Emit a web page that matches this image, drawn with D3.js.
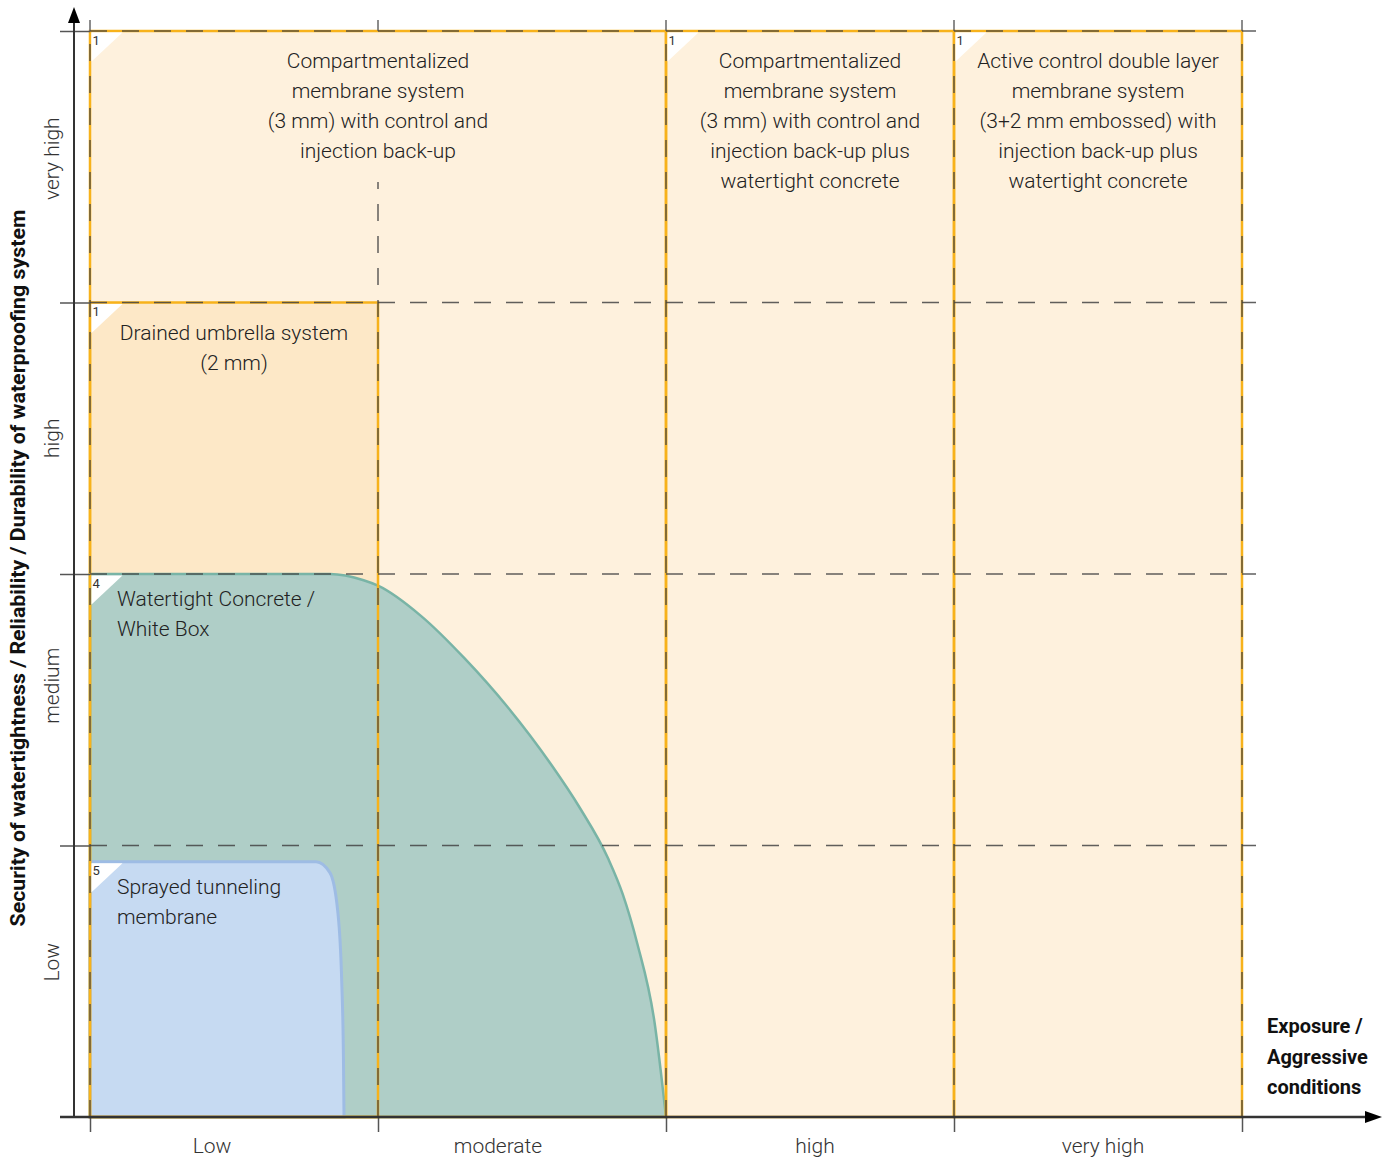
<!DOCTYPE html>
<html>
<head>
<meta charset="utf-8">
<script src="https://d3js.org/d3.v7.min.js"></script>
<style>
  body { margin: 0; background: #fff; }
  text { font-family: Roboto, "Open Sans", sans-serif; fill: #222; }
  .cat { font-size: 21px; font-weight: 300; fill: #333; }
  .box-label { font-size: 21px; font-weight: 300; }
  .title { font-size: 20px; font-weight: 700; fill: #111; }
  .corner-num { font-size: 13px; fill: #333; }
</style>
</head>
<body>
<div id="chart"></div>
<script>
// Categories on both axes
var xCategories = ["Low", "moderate", "high", "very high"];
var yCategories = ["Low", "medium", "high", "very high"];

// Rectangular systems: index, x range, y range (in category units), text lines
var rectIds = ["1", "1", "1", "1"];
var rectX = [[0, 2], [2, 3], [3, 4], [0, 1]];
var rectY = [[0, 4], [0, 4], [0, 4], [0, 3]];
var rectLabels = [
    ["Compartmentalized", "membrane system", "(3 mm) with control and", "injection back-up"],
    ["Compartmentalized", "membrane system", "(3 mm) with control and", "injection back-up plus", "watertight concrete"],
    ["Active control double layer", "membrane system", "(3+2 mm embossed) with", "injection back-up plus", "watertight concrete"],
    ["Drained umbrella system", "(2 mm)"]
];

// Curved systems: outline
var concreteCurve = [[0, 2], [0.833, 2], [0.95, 1.977], [1.0, 1.957], [1.15, 1.845], [1.3, 1.69], [1.45, 1.51],
    [1.6, 1.3], [1.7, 1.14], [1.8, 0.95], [1.85, 0.82], [1.9, 0.64], [1.96, 0.35], [2, 0]];
var sprayedCurve = [[0, 0.94], [0.785, 0.94], [0.833, 0.9], [0.86, 0.76], [0.874, 0.5], [0.88, 0.22], [0.882, 0]];
var curveIds = ["4", "5"];
var curveLabels = [["Watertight Concrete /", "White Box"], ["Sprayed tunneling", "membrane"]];

var xTitle = ["Exposure /", "Aggressive", "conditions"];
var yTitle = "Security of watertightness / Reliability / Durability of waterproofing system";

// Configuring SVG
var svgWidth = 1389;
var svgHeight = 1157;
var margin = { top: 31, right: 147, bottom: 40, left: 90 };
var width = svgWidth - margin.left - margin.right;
var height = svgHeight - margin.top - margin.bottom;

var svg = d3.select("#chart")
    .append("svg")
    .attr("width", svgWidth)
    .attr("height", svgHeight);

var chartGroup = svg.append("g")
    .attr("transform", `translate(${margin.left}, ${margin.top})`);

var x = d3.scaleLinear().domain([0, 4]).range([0, width]);
var y = d3.scaleLinear().domain([0, 4]).range([height, 0]);
var xBand = d3.scaleBand().domain(xCategories).range([0, width]);
var yBand = d3.scaleBand().domain(yCategories).range([height, 0]);

// small nudges so the category labels sit where the original had them
var xLabelShift = [-22, -24, 5, 5];
var yLabelShift = [-19, -24, 0, -8];

var peach = "#fbd7a0";
var peachOpacity = 0.36;
var peachSolid = "#fef1dd";
var orange = "#f7b21b";

// Rect fills
chartGroup.append("g").selectAll("rect")
    .data(rectX)
    .enter()
    .append("rect")
    .attr("x", (d, i) => x(d[0]))
    .attr("y", (d, i) => y(rectY[i][1]))
    .attr("width", d => x(d[1]) - x(d[0]))
    .attr("height", (d, i) => y(rectY[i][0]) - y(rectY[i][1]))
    .attr("fill", peach)
    .attr("fill-opacity", peachOpacity);

// Curved systems
var area = d3.area()
    .x(d => x(d[0]))
    .y0(y(0))
    .y1(d => y(d[1]))
    .curve(d3.curveMonotoneX);

chartGroup.append("path")
    .datum(concreteCurve)
    .attr("d", area)
    .attr("fill", "#afcec7")
    .attr("stroke", "#79b4a6")
    .attr("stroke-width", 2.5);

chartGroup.append("path")
    .datum(sprayedCurve)
    .attr("d", area)
    .attr("fill", "#c6daf2")
    .attr("stroke", "#9ebce4")
    .attr("stroke-width", 3);

// Rect borders
chartGroup.append("g").selectAll("rect")
    .data(rectX)
    .enter()
    .append("rect")
    .attr("x", d => x(d[0]))
    .attr("y", (d, i) => y(rectY[i][1]))
    .attr("width", d => x(d[1]) - x(d[0]))
    .attr("height", (d, i) => y(rectY[i][0]) - y(rectY[i][1]))
    .attr("fill", "none")
    .attr("stroke", orange)
    .attr("stroke-width", 2.5);

// Gridlines (dashed) + solid ends
var gridColor = "#444";
var grid = chartGroup.append("g");
grid.selectAll(".vgrid")
    .data(d3.range(0, 5))
    .enter()
    .append("line")
    .attr("x1", d => x(d))
    .attr("x2", d => x(d))
    .attr("y1", y(0))
    .attr("y2", y(4))
    .attr("stroke", gridColor)
    .attr("stroke-opacity", 0.85)
    .attr("stroke-width", 1.5)
    .attr("stroke-dasharray", "17,15");
grid.selectAll(".vtop")
    .data(d3.range(0, 5))
    .enter()
    .append("line")
    .attr("x1", d => x(d))
    .attr("x2", d => x(d))
    .attr("y1", y(4))
    .attr("y2", y(4) - 11)
    .attr("stroke", "#666")
    .attr("stroke-width", 1.5);
grid.selectAll(".hgrid")
    .data(d3.range(1, 5))
    .enter()
    .append("line")
    .attr("x1", x(0))
    .attr("x2", x(4) + 14)
    .attr("y1", d => y(d))
    .attr("y2", d => y(d))
    .attr("stroke", gridColor)
    .attr("stroke-opacity", 0.85)
    .attr("stroke-width", 1.5)
    .attr("stroke-dasharray", "17,15");

// Label background so the gridline stops under the first label
var lineH = 30;
rectLabels.forEach((lines, i) => {
    var cx = x((rectX[i][0] + rectX[i][1]) / 2);
    var top = y(rectY[i][1]);
    if (i === 0) {
        chartGroup.append("rect")
            .attr("x", cx - 115)
            .attr("y", top + 3)
            .attr("width", 230)
            .attr("height", 148)
            .attr("fill", peachSolid);
    }
    var t = chartGroup.append("text")
        .attr("class", "box-label")
        .attr("text-anchor", "middle");
    lines.forEach((l, j) => {
        t.append("tspan")
            .attr("x", cx)
            .attr("y", top + 37 + j * lineH)
            .text(l);
    });
});

curveLabels.forEach((lines, i) => {
    var curve = i === 0 ? concreteCurve : sprayedCurve;
    var top = y(curve[0][1]);
    var t = chartGroup.append("text")
        .attr("class", "box-label");
    lines.forEach((l, j) => {
        t.append("tspan")
            .attr("x", x(0) + 27)
            .attr("y", top + 32 + j * lineH)
            .text(l);
    });
});

// White corner triangles with numbers
var corners = rectX.map((d, i) => ({ x: d[0], y: rectY[i][1], id: rectIds[i] }))
    .concat([{ x: concreteCurve[0][0], y: concreteCurve[0][1], id: curveIds[0] },
             { x: sprayedCurve[0][0], y: sprayedCurve[0][1], id: curveIds[1] }]);
var cornerG = chartGroup.append("g").selectAll("g")
    .data(corners)
    .enter()
    .append("g")
    .attr("transform", d => `translate(${x(d.x) + 1.5}, ${y(d.y) + 1.5})`);
cornerG.append("path")
    .attr("d", "M0,0 L31,0 L0,29 Z")
    .attr("fill", "#fff");
cornerG.append("text")
    .attr("class", "corner-num")
    .attr("x", 1)
    .attr("y", 12)
    .text(d => d.id);

// Axes
var axisColor = "#333";
var xTicks = d3.axisBottom(x).tickValues(d3.range(0, 5)).tickSize(15).tickFormat("");
var xTickG = chartGroup.append("g")
    .attr("transform", `translate(0, ${height})`)
    .call(xTicks);
xTickG.select(".domain").remove();
xTickG.selectAll("line").attr("stroke", "#555").attr("stroke-width", 1.5);

var yTicks = d3.axisLeft(y).tickValues(d3.range(1, 5)).tickSize(30).tickFormat("");
var yTickG = chartGroup.append("g")
    .call(yTicks);
yTickG.select(".domain").remove();
yTickG.selectAll("line").attr("stroke", "#555").attr("stroke-width", 1.5);

// axis lines with arrows
var yAxisX = -16;
chartGroup.append("line")
    .attr("x1", yAxisX).attr("x2", yAxisX)
    .attr("y1", height).attr("y2", -10)
    .attr("stroke", axisColor).attr("stroke-width", 2);
chartGroup.append("path")
    .attr("d", `M${yAxisX - 6},-8 L${yAxisX + 6},-8 L${yAxisX},-24 Z`)
    .attr("fill", "#000");
chartGroup.append("line")
    .attr("x1", -30).attr("x2", width + 125)
    .attr("y1", height).attr("y2", height)
    .attr("stroke", axisColor).attr("stroke-width", 2.5);
chartGroup.append("path")
    .attr("d", `M${width + 123},${height - 6} L${width + 123},${height + 6} L${width + 140},${height} Z`)
    .attr("fill", "#000");

// Category labels
chartGroup.append("g").selectAll("text")
    .data(xCategories)
    .enter()
    .append("text")
    .attr("class", "cat")
    .attr("text-anchor", "middle")
    .attr("x", (d, i) => xBand(d) + xBand.bandwidth() / 2 + xLabelShift[i])
    .attr("y", height + 36)
    .text(d => d);

chartGroup.append("g").selectAll("text")
    .data(yCategories)
    .enter()
    .append("text")
    .attr("class", "cat")
    .attr("text-anchor", "middle")
    .attr("transform", (d, i) => `translate(-31, ${yBand(d) + yBand.bandwidth() / 2 + yLabelShift[i]}) rotate(-90)`)
    .text(d => d);

// Titles
var xt = chartGroup.append("text").attr("class", "title");
xTitle.forEach((l, j) => {
    xt.append("tspan")
        .attr("x", width + 25)
        .attr("y", height - 84 + j * 30.5)
        .text(l);
});

chartGroup.append("text")
    .attr("class", "title")
    .attr("text-anchor", "middle")
    .attr("transform", `translate(-65, ${height / 2 - 6}) rotate(-90)`)
    .attr("textLength", 717)
    .attr("lengthAdjust", "spacingAndGlyphs")
    .text(yTitle);
</script>
</body>
</html>
